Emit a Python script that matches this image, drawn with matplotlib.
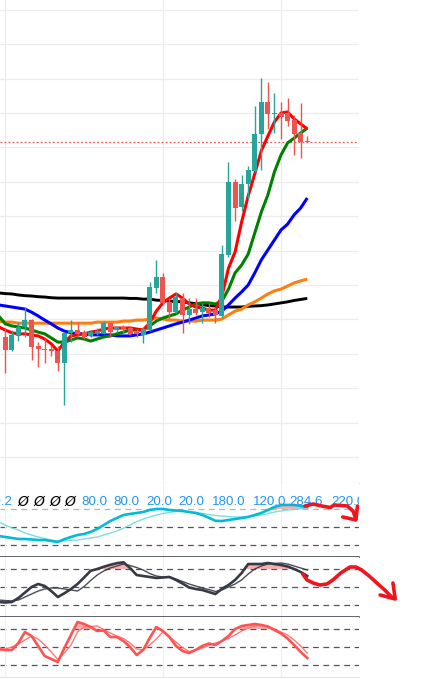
import numpy as np
import matplotlib
matplotlib.use('Agg')
import matplotlib.pyplot as plt

plt.rcParams['font.family'] = ['Liberation Sans', 'DejaVu Sans']
plt.rcParams['lines.scale_dashes'] = False

# candles, index 0..46
opens = [44.9, 41.1, 45.2, 47.8, 49.8, 42.3, 41.5, 41.4, 40.8, 37.3,
         46.0, 46.9, 46.3, 45.2, 46.0, 46.0, 49.0, 46.9, 47.8, 47.5,
         46.4, 45.5, 46.9, 59.1, 62.3, 55.1, 52.2, 56.2, 51.3, 53.0,
         52.2, 53.3, 52.7, 51.0, 68.7, 89.9, 82.7, 89.4, 93.1, 103.9,
         113.2, 109.7, 110.0, 110.0, 108.0, 104.2, 101.9]
highs = [47.5, 46.9, 49.2, 53.6, 50.1, 43.4, 44.6, 42.6, 42.3, 46.3,
         49.8, 49.2, 46.9, 46.9, 47.5, 49.5, 49.3, 48.1, 48.4, 48.1,
         47.2, 47.8, 60.9, 67.3, 63.5, 56.2, 57.7, 57.7, 56.2, 56.2,
         54.8, 54.8, 53.6, 71.6, 95.8, 90.8, 92.0, 94.6, 112.0, 120.2,
         119.0, 115.8, 113.2, 114.4, 109.4, 112.9, 103.3]
lows = [34.4, 40.8, 43.7, 44.9, 38.2, 36.2, 37.3, 39.4, 35.0, 25.1,
        43.4, 45.2, 44.3, 44.9, 45.5, 45.8, 44.9, 46.3, 46.0, 45.5,
        44.9, 43.1, 46.6, 57.7, 54.2, 50.1, 51.9, 46.0, 48.7, 51.3,
        49.0, 50.7, 49.0, 50.4, 68.1, 78.6, 81.5, 85.0, 92.8, 93.4,
        105.3, 104.2, 102.4, 106.2, 97.8, 96.9, 101.6]
closes = [41.1, 45.5, 47.8, 49.8, 42.0, 41.4, 41.1, 40.7, 37.3, 46.0,
          46.9, 45.8, 44.9, 46.3, 46.6, 49.0, 46.4, 47.8, 47.1, 45.8,
          45.8, 47.2, 59.4, 62.3, 54.8, 52.2, 56.5, 51.3, 53.0, 51.9,
          53.3, 51.9, 51.3, 69.0, 89.9, 82.5, 89.4, 93.4, 103.9, 113.2,
          109.7, 110.0, 108.8, 107.7, 103.9, 101.6, 101.6]

# moving averages and oscillators, index -1..46
line_idx = list(range(-1, 47))
ma_red = [47.8, 46.9, 46.1, 45.8, 45.8, 45.5, 45.2, 44.3, 42.9, 40.8, 43.4, 45.2,
          45.5, 45.8, 46.3, 46.6, 47.2, 47.5, 47.5, 47.5, 47.5, 47.2, 46.9, 49.0,
          52.4, 54.8, 56.2, 57.4, 56.2, 54.5, 53.6, 53.3, 52.7, 52.7, 56.8, 64.9,
          69.6, 78.3, 85.9, 92.3, 99.0, 103.3, 107.4, 110.0, 110.3, 108.3, 106.8, 105.4]
ma_green = [51.0, 48.7, 48.1, 47.8, 47.5, 46.9, 46.3, 45.8, 44.6, 43.4, 43.4, 44.0,
            44.6, 44.3, 43.7, 44.3, 44.9, 45.2, 45.8, 46.3, 46.9, 46.9, 46.9, 48.1,
            49.5, 50.4, 51.0, 51.6, 52.7, 53.6, 54.5, 54.8, 54.8, 54.5, 55.3, 58.8,
            63.5, 65.8, 69.0, 75.1, 81.2, 86.2, 92.9, 97.8, 101.3, 102.7, 104.2, 105.6]
ma_blue = [54.2, 53.9, 53.6, 53.3, 53.0, 52.1, 51.0, 49.8, 48.7, 47.5, 46.6, 46.1,
           45.8, 45.8, 45.5, 45.5, 45.5, 45.5, 45.2, 45.2, 45.2, 45.5, 45.8, 46.3,
           46.9, 47.5, 48.1, 48.7, 49.2, 49.8, 50.4, 51.0, 51.3, 51.6, 52.4, 54.2,
           56.2, 58.0, 60.0, 63.5, 67.3, 70.2, 73.1, 76.0, 77.7, 80.4, 82.4, 85.3]
ma_orange = [49.5, 49.2, 49.2, 48.9, 48.9, 48.9, 48.9, 48.9, 48.9, 48.9, 48.9, 48.9,
             48.9, 48.9, 48.9, 49.2, 49.2, 49.2, 49.2, 49.5, 49.5, 49.8, 49.8, 50.1,
             50.4, 50.1, 49.8, 49.8, 49.5, 49.5, 49.5, 49.8, 49.8, 49.8, 50.1, 51.3,
             52.4, 53.0, 54.2, 55.1, 56.2, 57.4, 58.3, 58.8, 59.7, 60.6, 61.2, 61.7]
ma_black = [57.7, 57.5, 57.4, 57.1, 56.9, 56.8, 56.6, 56.5, 56.3, 56.2, 56.2, 56.2,
            56.2, 56.2, 56.2, 56.2, 56.2, 56.2, 56.2, 56.2, 56.1, 56.1, 55.9, 55.9,
            55.6, 55.5, 55.3, 55.2, 55.1, 54.8, 54.6, 54.3, 54.0, 53.9, 53.6, 53.6,
            53.6, 53.6, 53.8, 53.9, 54.0, 54.2, 54.5, 54.8, 55.1, 55.5, 55.8, 56.1]

osc1_fast = [35.0, 33.3, 31.7, 30.0, 30.0, 29.2, 28.3, 28.3, 26.7, 25.0, 29.7, 33.3,
             36.7, 38.3, 41.7, 46.7, 53.3, 60.0, 65.0, 70.0, 71.7, 73.3, 75.0, 78.3,
             80.0, 80.0, 78.3, 77.5, 76.7, 75.0, 73.3, 70.0, 65.5, 60.3, 60.0, 61.7,
             63.3, 65.0, 66.7, 70.0, 73.3, 78.3, 83.3, 86.7, 86.7, 86.7, 85.0, 83.3]
osc1_slow = [58.3, 53.3, 48.3, 45.0, 40.0, 36.7, 33.3, 30.8, 28.3, 26.7, 27.2, 27.8,
             28.3, 30.0, 31.7, 33.3, 36.7, 40.0, 43.3, 48.0, 53.3, 58.8, 63.3, 66.7,
             70.0, 72.5, 74.2, 75.8, 76.2, 75.0, 74.2, 72.8, 70.8, 69.2, 68.3, 67.5,
             66.7, 66.7, 67.5, 68.3, 70.0, 72.5, 75.0, 76.7, 78.3, 79.2, 80.3, 81.7]
osc2_fast = [25.0, 24.2, 25.0, 31.7, 40.8, 50.0, 55.0, 51.7, 43.3, 33.3, 39.5, 46.7,
             55.0, 65.8, 77.0, 80.0, 83.7, 87.0, 89.7, 91.2, 81.7, 70.0, 68.3, 66.7,
             65.0, 65.8, 66.7, 61.7, 55.8, 49.2, 46.7, 45.0, 41.7, 38.3, 47.0, 53.3,
             61.7, 73.3, 88.3, 88.3, 88.3, 90.0, 88.3, 86.7, 84.2, 80.0, 75.0, 68.3]
osc2_slow = [28.3, 27.5, 26.7, 28.3, 33.3, 38.3, 43.3, 46.7, 48.3, 48.3, 46.7, 45.0,
             43.3, 50.8, 60.8, 70.0, 76.7, 81.7, 85.0, 88.3, 85.8, 82.5, 78.3, 72.5,
             68.3, 66.7, 66.7, 63.3, 59.2, 55.0, 51.7, 48.3, 45.8, 42.5, 45.0, 50.0,
             55.0, 61.7, 71.7, 80.0, 85.0, 88.3, 89.2, 90.0, 88.3, 85.0, 81.7, 78.3]
osc3_fast = [46.7, 45.0, 45.0, 56.7, 75.0, 68.3, 51.7, 35.0, 30.0, 25.0, 48.3, 70.0,
             91.7, 88.3, 83.3, 76.7, 77.5, 66.7, 66.7, 60.0, 50.0, 36.7, 45.0, 65.0,
             83.3, 76.7, 66.7, 51.7, 43.3, 40.0, 45.0, 51.7, 55.8, 53.3, 60.0, 68.3,
             80.0, 85.0, 86.7, 88.3, 86.7, 84.2, 78.3, 72.5, 64.2, 53.3, 41.7, 31.7]
osc3_slow = [44.2, 46.7, 50.0, 55.0, 61.7, 68.3, 63.3, 53.3, 41.7, 29.2, 40.0, 53.3,
             75.0, 83.3, 84.2, 85.0, 79.2, 73.3, 68.3, 64.2, 56.7, 46.7, 45.0, 53.3,
             63.3, 75.0, 66.7, 58.3, 49.2, 42.5, 45.0, 48.3, 52.5, 56.7, 60.0, 64.2,
             70.0, 76.7, 81.7, 85.0, 86.7, 83.3, 80.0, 75.0, 70.0, 61.7, 51.7, 40.0]
levels = [80, 50, 20]

# value labels along the top of the first oscillator
label_pos = [-0.94, 2.75, 5.18, 7.57, 9.9, 13.6, 18.4, 23.5, 28.3, 34.0, 40.2, 45.9, 52.2]
label_txt = ['20.2', '\u00d8', '\u00d8', '\u00d8', '\u00d8', '80.0', '80.0', '20.0',
             '20.0', '180.0', '120.0', '284.6', '220.0']

# hand-drawn arrows (panel index, value)
arrow1_x = [45.65, 46.9, 48.2, 49.5, 50.1, 52.1, 52.96, 53.4]
arrow1_y = [85.0, 88.3, 85.0, 82.5, 86.7, 85.0, 76.7, 63.3]
arrow1_hx = [51.4, 53.4, 53.65]
arrow1_hy = [66.7, 61.7, 85.0]
arrow2_x = [45.3, 45.96, 46.9, 47.9, 49.0, 49.9, 51.1, 52.5, 53.4, 54.3, 55.6, 56.6, 57.8, 59.0]
arrow2_y = [71.7, 61.7, 56.7, 53.3, 55.0, 61.7, 73.3, 83.3, 83.3, 78.3, 66.7, 56.7, 45.0, 31.7]
arrow2_hx = [57.1, 59.4, 59.05]
arrow2_hy = [36.7, 30.0, 56.7]

UP, DOWN = '#26a69a', '#ef5350'
W, H = 436, 679
fig = plt.figure(figsize=(W / 100, H / 100), dpi=100)


def px_axes(top, bottom):
    return fig.add_axes([0, 1 - bottom / H, 359 / W, (bottom - top) / H])


ax = px_axes(0, 483)
a1 = px_axes(483, 557)
a2 = px_axes(557, 617)
a3 = px_axes(617, 677)
xlim = (-0.807, 53.88)
vgrid = [0, 24, 42]

# main price panel
idx = np.arange(len(opens))
o, c = np.array(opens), np.array(closes)
cols = [UP if cc >= oo else DOWN for oo, cc in zip(o, c)]
ax.vlines(idx, lows, highs, colors=cols, lw=1.0, zorder=3)
ax.bar(idx, np.maximum(np.abs(c - o), 0.3), bottom=np.minimum(o, c), width=0.76,
       color=cols, lw=0, zorder=4)
for vals, col, lw in [(ma_black, 'black', 2.1), (ma_orange, '#ff7f0e', 2.2),
                      (ma_blue, 'blue', 2.2), (ma_green, 'green', 2.2),
                      (ma_red, 'red', 2.2)]:
    ax.plot(line_idx, vals, color=col, lw=lw, zorder=2, solid_capstyle='butt')
ax.axhline(closes[-1], color=DOWN, lw=0.9, ls=(0, (1.3, 1.6)), zorder=1)
ax.set_xlim(*xlim)
ax.set_ylim(2.44, 142.85)
ax.set_yticks(range(10, 141, 10))
ax.set_xticks(vgrid)
ax.grid(True, color='#ececec', lw=0.9, zorder=0)
ax.set_axisbelow(True)

# oscillators
panels = [(a1, osc1_fast, osc1_slow, (0, 123.3), '#00bcd4', '#6fd8e6'),
          (a2, osc2_fast, osc2_slow, (0, 100), '#363a45', '#363a45'),
          (a3, osc3_fast, osc3_slow, (0, 100), '#ff5252', '#ff6b6b')]
for a, fast, slow, ylim, cf, cs in panels:
    fa = np.array(fast)
    a.fill_between(line_idx, fa, 80, where=fa >= 80, interpolate=True,
                   color='#f7a1a1', alpha=0.85, lw=0, zorder=2)
    for lv in levels:
        col = '#b5b5b5' if (a is a1 and lv == 80) else '#555555'
        a.axhline(lv, color=col, lw=0.9, ls=(0, (4.2, 3.3)), zorder=1)
    a.plot(line_idx, slow, color=cs, lw=1.0, alpha=0.9, zorder=3)
    a.plot(line_idx, fast, color=cf, lw=1.9, zorder=4)
    a.set_xlim(*xlim)
    a.set_ylim(*ylim)
    a.set_xticks(vgrid)
    a.set_yticks([])
    a.grid(True, axis='x', color='#f0f0f0', lw=0.9, zorder=0)

for t, xp in zip(label_txt, label_pos):
    sym = t == '\u00d8'
    a1.text(xp, 91.7, t, ha='center', va='center', fontsize=10 if sym else 9.6,
            color='black' if sym else '#2196f3', zorder=5, clip_on=True,
            style='italic' if sym else 'normal',
            family=['DejaVu Sans'] if sym else ['Liberation Sans', 'DejaVu Sans'])

for a in (ax, a1, a2, a3):
    a.tick_params(length=0, labelleft=False, labelbottom=False)
    for s in a.spines.values():
        s.set_visible(False)
ax.spines['bottom'].set_visible(True)
ax.spines['bottom'].set_color('#e0e0e0')
for a in (a1, a2):
    a.spines['bottom'].set_visible(True)
    a.spines['bottom'].set_color('#363a45')
    a.spines['bottom'].set_linewidth(1.1)
a3.spines['bottom'].set_visible(True)
a3.spines['bottom'].set_color('#e6e6e6')

# hand-drawn red arrows
RED = '#f0141e'
for a, xs, ys, hx, hy in [(a1, arrow1_x, arrow1_y, arrow1_hx, arrow1_hy),
                          (a2, arrow2_x, arrow2_y, arrow2_hx, arrow2_hy)]:
    a.plot(xs, ys, color=RED, lw=2.6, clip_on=False, zorder=10,
           solid_capstyle='round', solid_joinstyle='round')
    a.plot(hx, hy, color=RED, lw=2.6, clip_on=False, zorder=10,
           solid_capstyle='round', solid_joinstyle='round')

fig.savefig('out.png', dpi=100)
